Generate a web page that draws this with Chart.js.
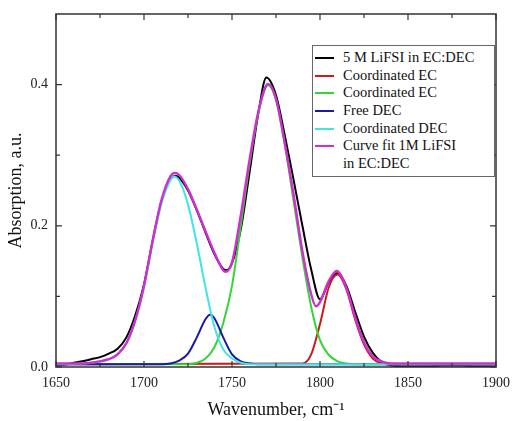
<!DOCTYPE html>
<html>
<head>
<meta charset="utf-8">
<script src="https://cdn.jsdelivr.net/npm/chart.js@4/dist/chart.umd.min.js"></script>
<style>
  html, body { margin: 0; padding: 0; background: #fff; }
  #wrap { position: relative; width: 512px; height: 421px; }
  #legend {
    position: absolute; left: 312px; top: 45px; width: 183px; height: 132px;
    border: 1px solid #666; background: #fff;
    font-family: "Liberation Serif", serif; font-size: 14.5px; color: #111;
    box-sizing: border-box; padding-top: 3px;
  }
  #legend .row { display: flex; align-items: flex-start; height: 17.7px; line-height: 17.7px; white-space: nowrap; }
  #legend .swatch { display: inline-block; width: 19px; height: 2px; margin: 8px 9px 0 2px; flex: none; }
</style>
</head>
<body>
<div id="wrap">
  <canvas id="chart" width="512" height="421"></canvas>
  <div id="legend"></div>
</div>
<script>
// series labels and colours
const seriesLabels = ['5 M LiFSI in EC:DEC', 'Coordinated EC', 'Coordinated EC', 'Free DEC', 'Coordinated DEC', 'Curve fit 1M LiFSI\nin EC:DEC'];
const seriesColors = ['#000000', '#cc1a1a', '#33d633', '#1a1aa8', '#3fe6e6', '#d02ed0'];

// measured spectrum (black)
const blackX = [1650,1655,1660,1665,1670,1675,1680,1685,1690,1695,1700,1705,1710,1715,1718,1720,1725,1730,1735,1740,1745,1747,1750,1755,1760,1765,1769.5,1775,1780,1785,1790,1795,1800,1805,1810,1815,1820,1825,1830,1835,1840,1850,1860,1870,1880,1890,1900];
const blackY = [0.002,0.003,0.006,0.008,0.011,0.014,0.019,0.026,0.042,0.073,0.117,0.18,0.235,0.266,0.271,0.268,0.25,0.222,0.19,0.16,0.139,0.137,0.147,0.195,0.276,0.36,0.41,0.385,0.328,0.265,0.2,0.138,0.096,0.12,0.133,0.115,0.078,0.043,0.02,0.007,0.002,0.001,0.001,0.002,0.002,0.001,0.001];

// coordinated EC ~1810 (red)
const redX = [1650,1790,1795,1800,1805,1810,1815,1820,1825,1830,1835,1840,1900];
const redY = [0.004,0.005,0.018,0.061,0.113,0.131,0.11,0.067,0.032,0.012,0.005,0.004,0.004];

// coordinated EC ~1770 (green)
const greenX = [1650,1725,1730,1735,1740,1745,1750,1755,1760,1765,1770.5,1775,1780,1785,1790,1795,1800,1805,1810,1815,1820,1900];
const greenY = [0.004,0.004,0.006,0.012,0.028,0.062,0.115,0.2,0.288,0.36,0.399,0.378,0.315,0.235,0.155,0.085,0.038,0.017,0.008,0.005,0.004,0.004];

// free DEC (blue)
const blueX = [1650,1710,1715,1720,1725,1730,1735,1737.5,1740,1745,1750,1755,1760,1765,1900];
const blueY = [0.004,0.004,0.005,0.009,0.019,0.042,0.068,0.074,0.069,0.042,0.018,0.008,0.005,0.004,0.004];

// coordinated DEC (cyan)
const cyanX = [1650,1660,1665,1670,1675,1680,1685,1690,1695,1700,1705,1710,1715,1717,1720,1725,1730,1735,1740,1745,1750,1755,1760,1900];
const cyanY = [0.004,0.004,0.005,0.006,0.008,0.011,0.018,0.033,0.065,0.113,0.177,0.232,0.265,0.27,0.264,0.23,0.175,0.112,0.057,0.025,0.012,0.006,0.004,0.004];

// curve fit (magenta)
const fitX = [1650,1660,1665,1670,1675,1680,1685,1690,1695,1700,1705,1710,1715,1717.5,1720,1725,1730,1735,1740,1745,1746.5,1750,1755,1760,1765,1770.5,1775,1780,1785,1790,1795,1797.7,1800,1805,1809.5,1815,1820,1825,1830,1835,1840,1900];
const fitY = [0.005,0.005,0.005,0.006,0.008,0.011,0.018,0.034,0.066,0.115,0.18,0.237,0.27,0.275,0.272,0.252,0.223,0.192,0.162,0.137,0.135,0.148,0.215,0.294,0.362,0.401,0.38,0.317,0.244,0.164,0.103,0.086,0.092,0.122,0.136,0.112,0.07,0.035,0.015,0.008,0.005,0.005];

// axis ticks
const xTickValues = [1650, 1700, 1750, 1800, 1850, 1900];
const xMinorValues = [1675, 1725, 1775, 1825, 1875];
const yTickValues = [0, 0.2, 0.4];
const yMinorValues = [0.1, 0.3];

const xs = [blackX, redX, greenX, blueX, cyanX, fitX];
const ys = [blackY, redY, greenY, blueY, cyanY, fitY];

const datasets = xs.map((xArr, i) => ({
    label: seriesLabels[i],
    data: xArr.map((x, j) => ({ x: x, y: ys[i][j] })),
    borderColor: seriesColors[i],
    borderWidth: i === 5 ? 2.4 : 2,
    pointRadius: 0,
    fill: false,
    cubicInterpolationMode: 'monotone',
    order: 5 - i
}));

// frame with inward ticks on all four sides
const framePlugin = {
    id: 'frame',
    afterDraw(chart) {
        const { ctx, chartArea: a, scales } = chart;
        ctx.save();
        ctx.strokeStyle = '#333';
        ctx.lineWidth = 1.5;
        ctx.strokeRect(a.left, a.top, a.right - a.left, a.bottom - a.top);
        ctx.lineWidth = 1.2;
        ctx.beginPath();
        const xt = (v, len) => {
            const p = scales.x.getPixelForValue(v);
            ctx.moveTo(p, a.bottom); ctx.lineTo(p, a.bottom - len);
            ctx.moveTo(p, a.top); ctx.lineTo(p, a.top + len);
        };
        const yt = (v, len) => {
            const p = scales.y.getPixelForValue(v);
            ctx.moveTo(a.left, p); ctx.lineTo(a.left + len, p);
            ctx.moveTo(a.right, p); ctx.lineTo(a.right - len, p);
        };
        xTickValues.forEach(v => xt(v, 6));
        xMinorValues.forEach(v => xt(v, 4));
        yTickValues.forEach(v => yt(v, 6));
        yMinorValues.forEach(v => yt(v, 4));
        ctx.stroke();
        ctx.restore();
    }
};

const serif = 'Liberation Serif';
new Chart(document.getElementById('chart').getContext('2d'), {
    type: 'line',
    data: { datasets: datasets },
    options: {
        responsive: false,
        animation: false,
        devicePixelRatio: 1,
        layout: { padding: { top: 14, right: 16, left: 0, bottom: 0 } },
        plugins: { legend: { display: false }, tooltip: { enabled: false } },
        scales: {
            x: {
                type: 'linear',
                min: 1650,
                max: 1900,
                afterBuildTicks: s => { s.ticks = xTickValues.map(v => ({ value: v })); },
                afterFit: s => { s.height = 54; s.paddingLeft = 0; s.paddingRight = 0; },
                grid: { display: false, drawTicks: false },
                border: { display: false },
                ticks: { padding: 8, color: '#222', font: { family: serif, size: 14 }, maxRotation: 0, callback: v => String(v) },
                title: { display: true, text: 'Wavenumber, cm\u207B\u00B9', color: '#111', font: { family: serif, size: 18 }, padding: { top: 2, bottom: 0 } }
            },
            y: {
                min: 0,
                max: 0.5,
                afterBuildTicks: s => { s.ticks = yTickValues.map(v => ({ value: v })); },
                afterFit: s => { s.width = 56; s.paddingTop = 0; s.paddingBottom = 0; },
                grid: { display: false, drawTicks: false },
                border: { display: false },
                ticks: { padding: 8, color: '#222', font: { family: serif, size: 14 }, callback: v => v.toFixed(1) },
                title: { display: true, text: 'Absorption, a.u.', color: '#111', font: { family: serif, size: 18 }, padding: { top: 5, bottom: 0 } }
            }
        }
    },
    plugins: [framePlugin]
});

// html legend
const legend = document.getElementById('legend');
seriesLabels.forEach((lab, i) => {
    lab.split('\n').forEach((line, k) => {
        const row = document.createElement('div');
        row.className = 'row';
        const sw = document.createElement('span');
        sw.className = 'swatch';
        sw.style.background = k === 0 ? seriesColors[i] : 'transparent';
        row.appendChild(sw);
        const t = document.createElement('span');
        t.textContent = line;
        row.appendChild(t);
        legend.appendChild(row);
    });
});
</script>
</body>
</html>
